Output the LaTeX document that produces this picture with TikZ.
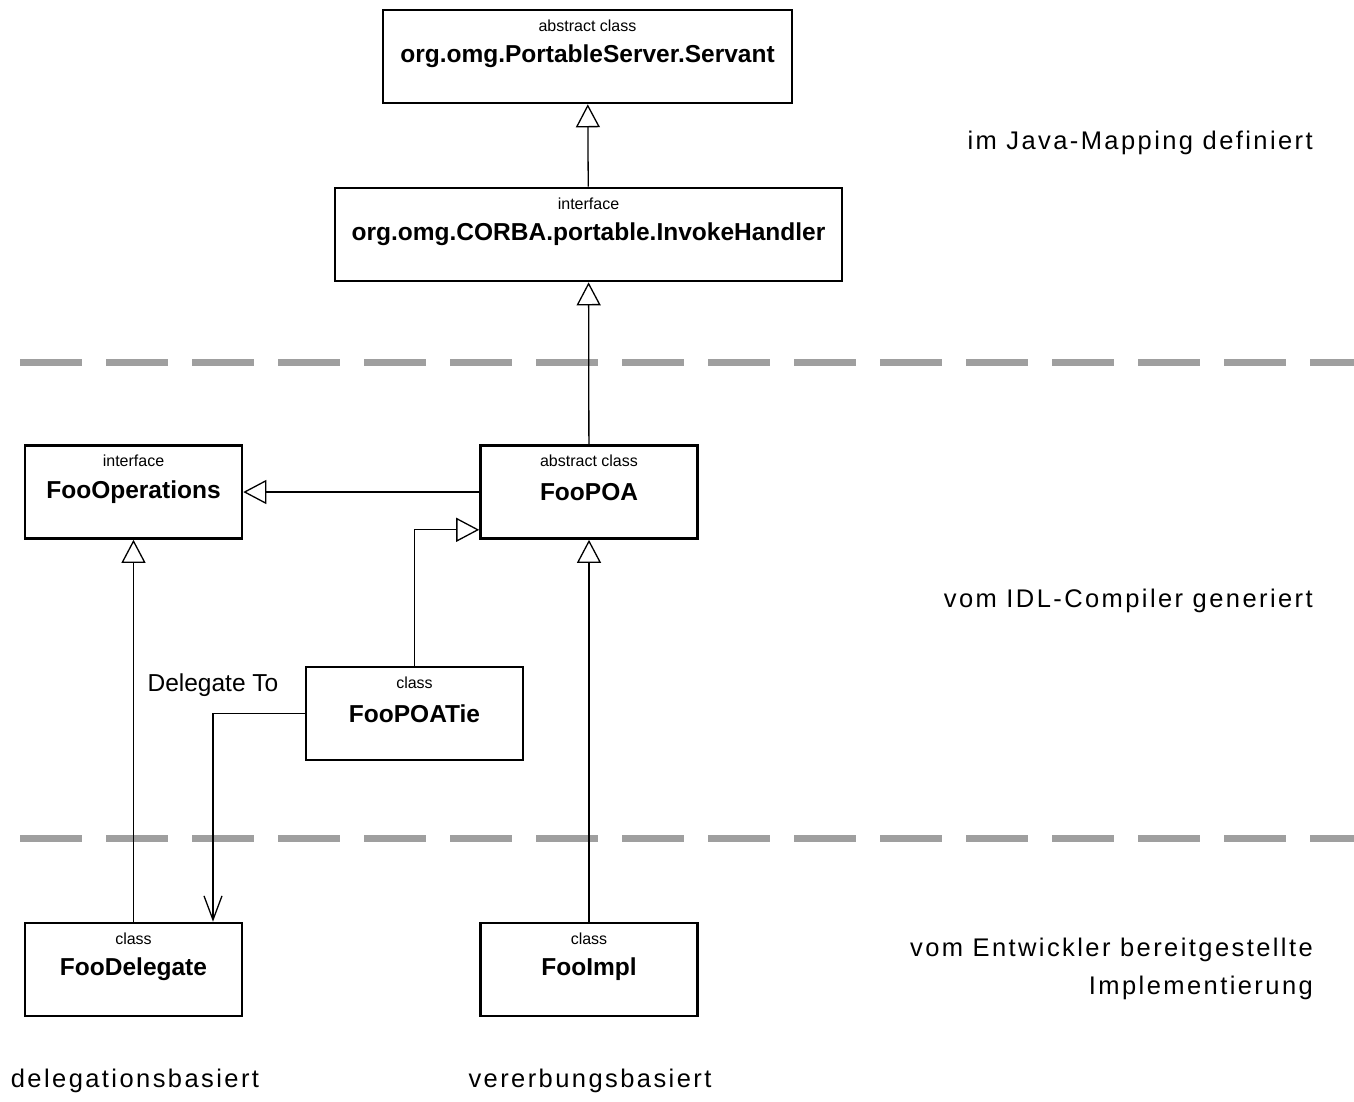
\documentclass[tikz,border=0pt]{standalone}
\usepackage{fontspec}
\setmainfont{Liberation Sans}
\usetikzlibrary{arrows.meta}

\tikzset{
  classbox/.style={draw, line width=2.6pt, minimum width=#1, minimum height=93pt,
    inner sep=0pt, font=\fontsize{24.5}{28}\selectfont\bfseries},
  classbox/.default=217pt,
  stereo/.style={anchor=center, yshift=-17pt, font=\fontsize{16}{18}\selectfont},
  inherit/.style={line width=1.3pt, -{Triangle[open, fill=white, length=23pt, width=24pt, line width=1.3pt]}},
  delegation/.style={line width=1.3pt, -{Straight Barb[length=24pt, width=18pt, line width=1.3pt]}},
  layer/.style={line width=7pt, draw=gray!75, dash pattern=on 62pt off 24pt},
  note/.style={inner sep=0pt, font=\fontsize{25.5}{38}\selectfont\addfontfeatures{LetterSpace=9.5}}
}

\begin{document}
\begin{tikzpicture}[x=1pt, y=-1pt]
  \useasboundingbox (0,0) rectangle (1354,1101);

  %% layer separators
  \draw[layer] (20,362) -- (1354,362);
  \draw[layer] (20,838) -- (1354,838);

  %% classes
  \node[classbox=409pt, label={[stereo]north:abstract class}] (servant) at (587.5,56.5) {org.omg.PortableServer.Servant};
  \node[classbox=507pt, label={[stereo]north:interface}] (invoke) at (588.5,234.5) {org.omg.CORBA.portable.InvokeHandler};
  \node[classbox, label={[stereo]north:interface}] (ops) at (133.5,492) {FooOperations};
  \node[classbox, label={[stereo]north:abstract class}] (poa) at (589,492) {FooPOA};
  \node[classbox, label={[stereo]north:class}] (tie) at (414.5,713.5) {FooPOATie};
  \node[classbox, label={[stereo]north:class}] (delegate) at (133.5,969.5) {FooDelegate};
  \node[classbox, label={[stereo]north:class}] (impl) at (589,969.5) {FooImpl};

  %% inheritance
  \draw[inherit] (invoke) -- (servant);
  \draw[inherit] (poa) -- (invoke);
  \draw[inherit] (poa) -- (ops);
  \draw[inherit] (tie.north) |- ([yshift=10pt]poa.south west);
  \draw[inherit] (delegate) -- (ops);
  \draw[inherit] (impl) -- (poa);

  %% delegation
  \draw[delegation] (tie.west) -| ([xshift=79.5pt]delegate.north)
    node[pos=0.5, anchor=south, yshift=16pt, font=\fontsize{24.5}{28}\selectfont, inner sep=0pt] (delegateto) {Delegate To};

  %% layer notes
  \node[note, anchor=east] (javamap) at (1313,143) {im Java-Mapping definiert};
  \node[note, anchor=east] (idlgen) at (1313,601) {vom IDL-Compiler generiert};
  \node[note, anchor=east, align=right] (devimpl) at (1313,969) {vom Entwickler bereitgestellte\\Implementierung};

  %% bottom notes
  \node[note] (delegbased) at (135,1081) {delegationsbasiert};
  \node[note] (inhbased) at (590,1081) {vererbungsbasiert};
\end{tikzpicture}
\end{document}
